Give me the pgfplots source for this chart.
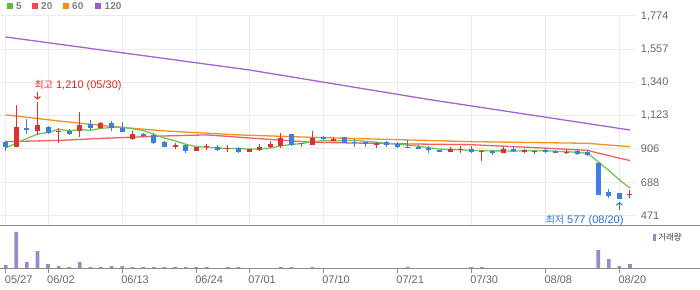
\documentclass[border=0pt]{standalone}
\usepackage{pgfplots}
\pgfplotsset{compat=1.18}
\usepackage{pgfplotstable}
\usepackage{fontspec}
\setmainfont{Liberation Sans}
\newfontfamily\kr{Noto Sans CJK KR}
\usetikzlibrary{arrows.meta}
\definecolor{cred}{HTML}{E03131}
\definecolor{cblue}{HTML}{3D7FE0}
\definecolor{ma5}{HTML}{72C656}
\definecolor{ma20}{HTML}{F06060}
\definecolor{ma60}{HTML}{F5901F}
\definecolor{ma120}{HTML}{A463D3}
\definecolor{volc}{HTML}{9C89C9}
\definecolor{gridc}{HTML}{EBEBEB}
\definecolor{axc}{HTML}{8A8A8A}
\definecolor{labc}{HTML}{666666}
\definecolor{legc}{HTML}{808080}
\definecolor{annr}{HTML}{E5261E}
\definecolor{annb}{HTML}{2671DB}
\definecolor{lg5}{HTML}{5CBE3C}
\definecolor{lg20}{HTML}{EF4A4A}
\definecolor{lg60}{HTML}{F58A1E}
\definecolor{lg120}{HTML}{9E5BD0}

\pgfplotstableread{
i O H L C
1 919 1195 919 1049
3 1026 1210 998 1064
5 1016 1042 943 1020
7 1026 1147 987 1064
9 1042 1085 1035 1075
12 972 1024 965 1007
16 921 947 906 932
18 895 921 895 919
19 917 939 899 921
21 906 932 886 912
23 888 909 886 906
24 899 939 893 919
25 919 961 914 939
26 928 1011 914 980
29 934 1024 934 978
31 959 985 959 972
35 934 954 914 947
42 888 919 888 906
43 901 925 880 906
45 886 899 829 895
47 882 919 877 906
49 888 906 878 899
50 889 899 875 893
53 880 897 873 886
59 604 641 585 608
}\redtab

\pgfplotstableread{
i O H L C
0 952 959 893 919
2 1040 1101 1002 1029
4 1049 1057 1003 1009
6 1024 1035 998 1005
8 1070 1092 1031 1042
10 1077 1090 1026 1042
11 1040 1085 1020 1020
13 1007 1010 987 993
14 1000 1009 939 945
15 952 955 918 921
17 932 932 880 893
20 921 932 895 901
22 914 919 880 888
27 1005 1005 928 934
28 943 947 921 937
30 985 991 965 972
32 985 985 947 947
33 954 970 917 947
34 952 952 917 941
36 952 961 921 934
37 941 952 914 921
38 921 965 910 914
39 921 932 906 906
40 914 925 880 899
41 899 899 888 888
44 904 925 880 884
46 893 899 864 878
48 908 924 888 895
51 897 910 877 884
52 891 899 877 882
54 895 904 866 875
55 884 899 860 866
56 816 820 604 604
57 625 648 586 599
58 617 617 577 577
}\bluetab

\pgfplotstableread{
i v
0 912
1 945
2 975
3 1003
4 1014
5 1034.2
6 1025.4
7 1032.4
8 1028
9 1041.2
10 1045.6
11 1048.6
12 1037.2
13 1027.4
14 1001.4
15 977.2
16 959.6
17 936.8
18 922
19 917.2
20 913.2
21 909.2
22 908.2
23 905.6
24 905.2
25 912.8
26 926.4
27 935.6
28 941.8
29 953.6
30 960.2
31 958.6
32 961.2
33 963.2
34 955.8
35 950.8
36 943.2
37 938
38 931.4
39 924.4
40 914.8
41 905.6
42 902.6
43 901
44 896.6
45 895.8
46 893.8
47 893.8
48 891.6
49 894.6
50 894.2
51 895.4
52 890.6
53 888.8
54 884
55 878.6
56 822.6
57 766
58 704.2
59 650.8
}\mafive

\pgfplotstableread{
i v
0 954
5 962
10 978
15 991
19 998
23 978
29 950
37 940
44 934
50 915
55 897
56 879
57 863
58 846
59 831
}\matwenty

\pgfplotstableread{
i v
0 1129
5 1089
10 1053
15 1024
22 998
30 980
44 954
55 943
59 921
}\masixty

\pgfplotstableread{
i v
0 1637
23 1422
40 1229
59 1030
}\maonetwenty

\pgfplotstableread{
i v
0 3.3
1 36.3
2 6.3
3 17.3
4 4.3
5 2.3
6 1.3
7 6.3
8 1.3
9 1.3
10 2.3
11 2.3
12 1.3
13 1.3
14 1.3
15 1.3
16 1.3
17 1.3
18 1.3
19 1.3
20 0.3
21 1.3
22 1.3
23 0.3
24 0.3
25 0.3
26 1.3
27 1.3
28 0.3
29 1.3
30 0.3
31 0.3
32 0.3
33 0.3
34 0.3
35 0.3
36 0.3
37 0.3
38 1.3
39 0.3
40 0.3
41 0.3
42 0.3
43 0.3
44 1.3
45 1.3
46 0.3
47 0.3
48 0.3
49 0.3
50 0.3
51 0.3
52 0.3
53 0.3
54 0.3
55 0.3
56 18.3
57 9.3
58 2.3
59 4.3
}\voltab

\begin{document}
\begin{tikzpicture}
\path[use as bounding box] (0pt,0pt) rectangle (700pt,289pt);

% price panel
\begin{axis}[
  at={(0pt,63.7pt)}, anchor=south west,
  scale only axis, width=636pt, height=209.3pt,
  xmin=-0.54, xmax=59.57, ymin=408, ymax=1774,
  axis line style={draw=none},
  xtick={0,4,11,18,23,30,37,44,51,58}, xticklabels={},
  ytick={471,688,906,1123,1340,1557,1774},
  yticklabels={471,688,906,{1,123},{1,340},{1,557},{1,774}},
  yticklabel pos=right,
  major tick length=0pt,
  grid=major, major grid style={draw=gridc, line width=1pt},
  yticklabel style={anchor=west, inner sep=0pt, xshift=4.7pt, text=labc, font=\fontsize{11}{13}\selectfont},
  clip=false,
]
\addplot[ma120, line width=1.3pt] table[x=i, y=v] \maonetwenty;
\addplot[ma60, line width=1.3pt] table[x=i, y=v] \masixty;
\addplot[ma20, line width=1.3pt] table[x=i, y=v] \matwenty;
\addplot[ma5, line width=1.3pt] table[x=i, y=v] \mafive;
% wicks
\addplot[draw=none, mark=none, error bars/.cd, y dir=plus, y explicit, error mark=none,
  error bar style={draw=cred, line width=1pt}]
  table[x=i, y=L, y error plus expr={\thisrow{H}-\thisrow{L}}] \redtab;
\addplot[draw=none, mark=none, error bars/.cd, y dir=plus, y explicit, error mark=none,
  error bar style={draw=cblue, line width=1pt}]
  table[x=i, y=L, y error plus expr={\thisrow{H}-\thisrow{L}}] \bluetab;
% bodies
\addplot[draw=none, mark=none, error bars/.cd, y dir=plus, y explicit, error mark=none,
  error bar style={draw=cred, line width=5pt}]
  table[x=i, y expr={min(\thisrow{O},\thisrow{C})}, y error plus expr={max(abs(\thisrow{C}-\thisrow{O}),6.5)}] \redtab;
\addplot[draw=none, mark=none, error bars/.cd, y dir=plus, y explicit, error mark=none,
  error bar style={draw=cblue, line width=5pt}]
  table[x=i, y expr={min(\thisrow{O},\thisrow{C})}, y error plus expr={max(abs(\thisrow{C}-\thisrow{O}),6.5)}] \bluetab;
% annotations
\draw[annr, line width=1pt, -{Straight Barb[length=2.5pt,width=6pt]}] (axis cs:3,1280) -- (axis cs:3,1228);
\node[anchor=base west, inner sep=0pt, text=annr, font=\fontsize{11}{13}\selectfont] at ([xshift=-3pt, yshift=3.4pt]axis cs:3,1280) {{\kr\fontsize{10}{12}\selectfont 최고} 1,210 (05/30)};
\draw[annb, line width=1pt, -{Straight Barb[length=2.5pt,width=6pt]}] (axis cs:58,508) -- (axis cs:58,560);
\node[anchor=base east, inner sep=0pt, text=annb, font=\fontsize{11}{13}\selectfont] at ([xshift=4.3pt, yshift=-13.3pt]axis cs:58,508) {{\kr\fontsize{10}{12}\selectfont 최저} 577 (08/20)};
\end{axis}

% volume panel
\begin{axis}[
  at={(0pt,20.7pt)}, anchor=south west,
  scale only axis, width=636pt, height=43pt,
  xmin=-0.54, xmax=59.57, ymin=0, ymax=43,
  axis x line=bottom, axis y line=none,
  axis line style={draw=none, -},
  xtick={0,4,11,18,23,30,37,44,51,58},
  xticklabels={05/27,06/02,06/13,06/24,07/01,07/10,07/21,07/30,08/08,08/20},
  ytick=\empty,
  tick align=outside, major tick length=5pt,
  tick style={draw=axc, line width=1pt},
  xticklabel style={anchor=north west, inner sep=0pt, xshift=-1pt, yshift=-2.2pt, text=labc, font=\fontsize{11}{13}\selectfont},
  clip=false,
]
\addplot[ybar, bar width=3.6pt, fill=volc, draw=none] table[x=i, y=v] \voltab;
\end{axis}

% panel separator lines
\draw[axc, line width=1.2pt] (0pt,63.7pt) -- (700pt,63.7pt);
\draw[axc, line width=1.2pt] (0pt,20.7pt) -- (700pt,20.7pt);

% top legend
\begin{scope}[every node/.style={anchor=west, inner sep=0pt, text=legc, font=\bfseries\fontsize{10}{12}\selectfont}]
\fill[lg5] (7.3pt,279.7pt) rectangle (13.3pt,285.7pt);
\node at (16pt,282.7pt) {5};
\fill[lg20] (32.3pt,279.7pt) rectangle (38.3pt,285.7pt);
\node at (41pt,282.7pt) {20};
\fill[lg60] (63.3pt,279.7pt) rectangle (69.3pt,285.7pt);
\node at (72pt,282.7pt) {60};
\fill[lg120] (95.3pt,279.7pt) rectangle (101.3pt,285.7pt);
\node at (104.5pt,282.7pt) {120};
\end{scope}

% volume legend
\fill[volc] (653pt,48pt) rectangle (656pt,55pt);
\node[anchor=west, inner sep=0pt, text=black!75] at (658pt,51.5pt) {\kr\fontsize{8.5}{10}\selectfont 거래량};
\end{tikzpicture}
\end{document}
